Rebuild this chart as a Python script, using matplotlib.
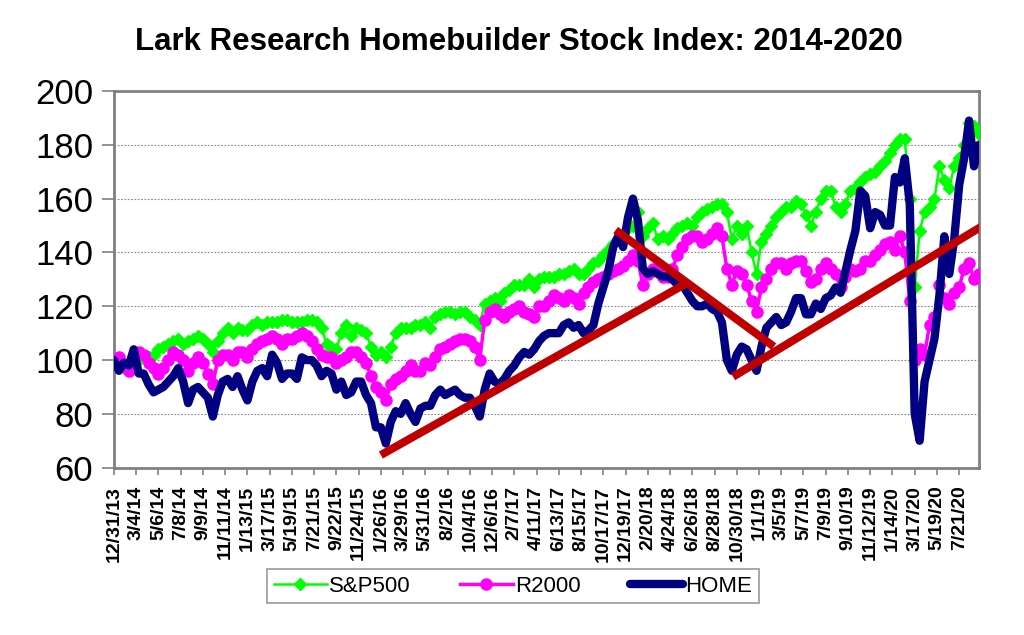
import numpy as np
import matplotlib
matplotlib.use("Agg")
import matplotlib.pyplot as plt

plt.rcParams['font.family'] = ['Liberation Sans', 'DejaVu Sans']

title = "Lark Research Homebuilder Stock Index: 2014-2020"
series_names = ["S&P500", "R2000", "HOME"]

# Bi-weekly index values (weeks since 12/31/13, every 2nd week)
home = [
    100, 96, 99, 98, 104, 95, 95, 91, 88, 89,
    90, 92, 94, 97, 92, 84, 89, 90, 88, 86,
    79, 87, 92, 93, 90, 94, 89, 85, 92, 96,
    97, 94, 102, 99, 93, 95, 95, 93, 101, 100,
    100, 98, 94, 96, 95, 89, 92, 87, 88, 92,
    92, 87, 84, 75, 75, 69, 77, 81, 80, 84,
    80, 77, 82, 83, 83, 87, 89, 87, 88, 89,
    87, 86, 86, 83, 79, 89, 95, 92, 91, 93,
    96, 98, 101, 103, 102, 104, 107, 109, 110, 110,
    110, 113, 114, 112, 113, 110, 111, 113, 121, 127,
    133, 142, 146, 142, 153, 160, 152, 134, 132, 133,
    132, 131, 131, 130, 128, 128, 125, 122, 120, 120,
    121, 119, 118, 114, 100, 96, 102, 105, 104, 100,
    96, 105, 112, 114, 116, 113, 114, 118, 123, 123,
    117, 117, 121, 119, 123, 124, 127, 125, 133, 141,
    148, 163, 161, 149, 155, 154, 150, 150, 168, 166,
    175, 158, 80, 70, 92, 100, 108, 124, 146, 132,
    145, 165, 175, 189, 172, 180,
]

sp500 = [
    100, 98, 97, 99, 101, 100, 101, 101, 102, 104,
    105, 106, 107, 108, 106, 107, 108, 109, 108, 106,
    103, 107, 110, 112, 110, 112, 111, 111, 113, 114,
    113, 114, 114, 114, 115, 115, 114, 114, 114, 115,
    115, 114, 112, 106, 105, 104, 110, 113, 109, 112,
    111, 110, 105, 102, 103, 101, 105, 110, 112, 112,
    112, 113, 113, 114, 112, 116, 117, 118, 118, 117,
    118, 118, 116, 115, 113, 121, 122, 123, 122, 125,
    126, 128, 128, 128, 130, 127, 130, 131, 131, 131,
    132, 132, 133, 134, 132, 132, 134, 136, 137, 139,
    141, 143, 145, 147, 149, 150, 155, 146, 149, 151,
    145, 146, 145, 147, 149, 150, 151, 150, 153, 155,
    156, 157, 158, 158, 155, 145, 150, 147, 150, 140,
    132, 144, 147, 150, 153, 155, 157, 157, 159, 158,
    154, 150, 155, 160, 163, 163, 157, 155, 158, 163,
    164, 166, 168, 169, 170, 172, 174, 177, 180, 182,
    182, 160, 127, 148, 155, 157, 160, 172, 167, 164,
    172, 175, 180, 188, 187, 184,
]

r2000 = [
    100, 101, 98, 96, 102, 103, 102, 99, 97, 95,
    97, 100, 103, 102, 100, 96, 99, 101, 99, 95,
    91, 100, 102, 102, 100, 103, 103, 101, 104, 106,
    107, 108, 109, 108, 106, 108, 108, 109, 110, 109,
    107, 104, 102, 101, 101, 99, 100, 101, 103, 103,
    101, 99, 94, 90, 88, 85, 91, 93, 94, 96,
    98, 96, 96, 99, 98, 101, 104, 105, 106, 107,
    108, 108, 107, 105, 100, 115, 118, 119, 117, 116,
    118, 119, 120, 118, 117, 116, 120, 120, 122, 124,
    123, 122, 124, 123, 121, 125, 127, 129, 130, 131,
    132, 133, 134, 135, 137, 139, 137, 128, 132, 134,
    133, 131, 131, 134, 139, 142, 145, 146, 146, 144,
    145, 147, 149, 146, 134, 128, 133, 132, 128, 122,
    118, 127, 130, 134, 136, 136, 134, 136, 137, 137,
    133, 129, 130, 134, 136, 134, 132, 127, 131, 134,
    133, 134, 137, 137, 139, 141, 143, 144, 141, 146,
    140, 122, 100, 104, 102, 113, 116, 128, 123, 121,
    125, 127, 134, 136, 130, 132,
]

# Category labels (every 9th week)
tick_labels = [
    "12/31/13", "3/4/14", "5/6/14", "7/8/14", "9/9/14", "11/11/14",
    "1/13/15", "3/17/15", "5/19/15", "7/21/15", "9/22/15", "11/24/15",
    "1/26/16", "3/29/16", "5/31/16", "8/2/16", "10/4/16", "12/6/16",
    "2/7/17", "4/11/17", "6/13/17", "8/15/17", "10/17/17", "12/19/17",
    "2/20/18", "4/24/18", "6/26/18", "8/28/18", "10/30/18", "1/1/19",
    "3/5/19", "5/7/19", "7/9/19", "9/10/19", "11/12/19", "1/14/20",
    "3/17/20", "5/19/20", "7/21/20",
]

# Hand-drawn trend lines (week index, index value)
trend1_week = [108, 232]
trend1_val = [64.7, 128.7]
trend2_week = [203, 267]
trend2_val = [148.3, 105.0]
trend3_week = [250.5, 351]
trend3_val = [93.8, 149.6]

weeks = np.arange(len(home)) * 2
n_weeks = weeks[-1]

fig = plt.figure(figsize=(10.24, 6.35), dpi=100)
ax = fig.add_axes([0.1113, 0.2635, 0.8447, 0.5932])

ax.plot(weeks, sp500, color="#00FF00", lw=1.8, marker="D", ms=6.5,
        mec="#00FF00", mfc="#00FF00", label=series_names[0], zorder=3)
ax.plot(weeks, r2000, color="#FF00FF", lw=2.5, marker="o", ms=8,
        mec="#FF00FF", mfc="#FF00FF", label=series_names[1], zorder=4)
ax.plot(weeks, home, color="#000080", lw=6, solid_capstyle="round",
        solid_joinstyle="round", label=series_names[2], zorder=5)

for tx, ty in [(trend1_week, trend1_val), (trend2_week, trend2_val),
               (trend3_week, trend3_val)]:
    ax.plot(tx, ty, color="#C00000", lw=5.8, solid_capstyle="butt", zorder=6)

ax.set_xlim(0, n_weeks)
ax.set_ylim(60, 200)
ax.set_yticks(np.arange(60, 201, 20))
ax.tick_params(axis="y", labelsize=25, length=9, width=1.2, color="#808080",
               direction="out", pad=6)
tick_pos = np.arange(len(tick_labels)) * 9
ax.set_xticks(tick_pos)
ax.set_xticklabels(tick_labels, rotation=90, fontsize=14, fontweight="bold")
ax.tick_params(axis="x", length=5, width=1.2, color="#808080",
               direction="out", pad=8)

ax.yaxis.grid(True, linestyle=(0, (1.5, 1.5)), color="#888888", lw=0.8)
ax.set_axisbelow(True)
for s in ax.spines.values():
    s.set_color("#808080")
    s.set_linewidth(2)

fig.text(0.507, 0.934, title, ha="center", va="center",
         fontsize=22.5, fontweight="bold")

leg = fig.legend(loc="center", bbox_to_anchor=(0.501, 0.077), ncol=3,
                 fontsize=16, frameon=True, fancybox=False,
                 edgecolor="#808080", handlelength=2.4, columnspacing=2.2,
                 handletextpad=0.1, borderpad=0.3)
leg.get_frame().set_linewidth(1.2)

fig.savefig("out.png", dpi=100, facecolor="white")
